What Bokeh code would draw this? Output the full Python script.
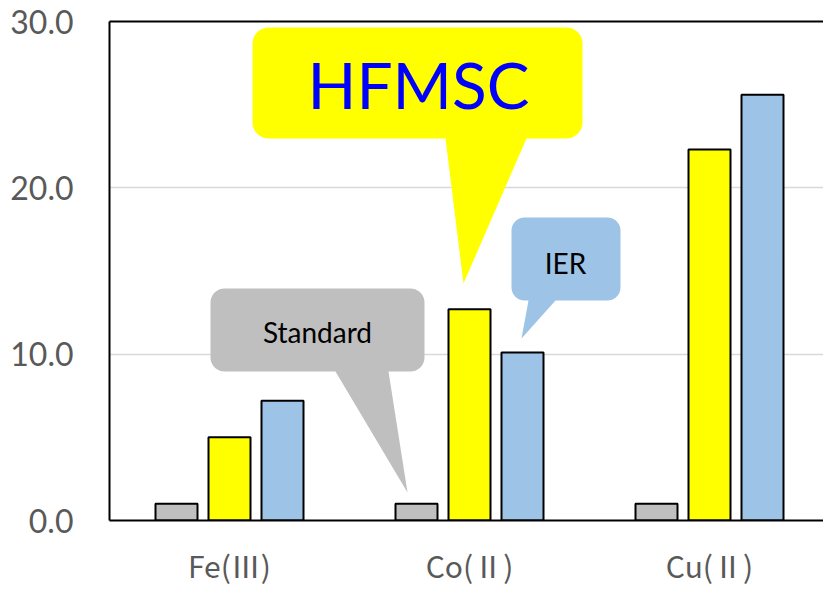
import numpy as np
from bokeh.plotting import figure
from bokeh.models import ColumnDataSource, Range1d, FixedTicker, PrintfTickFormatter, LinearAxis
from bokeh.transform import dodge
from bokeh.core.properties import value
from bokeh.embed import file_html
from bokeh.resources import INLINE

# ---- data ----
categories = ["Fe(Ⅲ)", "Co(Ⅱ)", "Cu(Ⅱ)"]
standard = [1.0, 1.0, 1.0]
hfmsc = [5.0, 12.7, 22.3]
ier = [7.2, 10.1, 25.6]
y_ticks = [0, 10, 20, 30]

cat_x = [i + 0.5 for i in range(len(categories))]
src = ColumnDataSource(dict(x=cat_x, standard=standard, hfmsc=hfmsc, ier=ier))

p = figure(width=823, height=590, output_backend="svg", toolbar_location=None,
           x_range=Range1d(0, 714 / 240), y_range=Range1d(0, 30),
           min_border_left=109, min_border_right=0, min_border_top=21, min_border_bottom=70)
p.outline_line_color = None
p.background_fill_color = "white"
p.border_fill_color = "white"

# axes
p.yaxis.ticker = FixedTicker(ticks=y_ticks)
p.yaxis.formatter = PrintfTickFormatter(format="%.1f")
p.yaxis.axis_line_color = "black"
p.yaxis.axis_line_width = 2
p.yaxis.major_tick_line_color = None
p.yaxis.minor_tick_line_color = None
p.yaxis.major_label_text_font_size = "32px"
p.yaxis.major_label_text_color = "#595959"
p.yaxis.major_label_text_font = "Lato"
p.yaxis.major_label_standoff = 30

p.xaxis.ticker = FixedTicker(ticks=cat_x)
p.xaxis.major_label_overrides = {x: c for x, c in zip(cat_x, categories)}
p.xaxis.axis_line_color = "black"
p.xaxis.axis_line_width = 2
p.xaxis.major_tick_line_color = None
p.xaxis.minor_tick_line_color = None
p.xaxis.major_label_text_font_size = "30px"
p.xaxis.major_label_text_color = "#595959"
p.xaxis.major_label_text_font = "Noto Sans CJK JP"
p.xaxis.major_label_standoff = 16

top_axis = LinearAxis(axis_line_color="black", axis_line_width=2,
                      major_tick_line_color=None, minor_tick_line_color=None,
                      major_label_text_font_size="0px", ticker=FixedTicker(ticks=[]))
p.add_layout(top_axis, "above")

p.xgrid.grid_line_color = None
p.ygrid.ticker = FixedTicker(ticks=y_ticks)
p.ygrid.grid_line_color = "#d9d9d9"
p.ygrid.grid_line_width = 1.5

# bars
bw = 42 / 240
off = 53 / 240
p.vbar(x=dodge("x", -off), top="standard", width=bw, source=src,
       fill_color="#BFBFBF", line_color="black", line_width=2)
p.vbar(x=dodge("x", 0), top="hfmsc", width=bw, source=src,
       fill_color="#FFFF00", line_color="black", line_width=2)
p.vbar(x=dodge("x", off), top="ier", width=bw, source=src,
       fill_color="#9DC3E6", line_color="black", line_width=2)

# ---- callouts (layout in screen px of the frame, converted to data units) ----
def to_data(sx, sy):
    return (sx - 109) / 240.0, (520 - sy) * 30.0 / 499.0

def bubble(x0, y0, x1, y1, r, bx0, bx1, tx, ty, n=10):
    pts = []
    def arc(cx, cy, a0, a1):
        for a in np.linspace(a0, a1, n):
            pts.append((cx + r * np.cos(a), cy + r * np.sin(a)))
    arc(x0 + r, y0 + r, np.pi, 1.5 * np.pi)
    arc(x1 - r, y0 + r, 1.5 * np.pi, 2 * np.pi)
    arc(x1 - r, y1 - r, 0, 0.5 * np.pi)
    pts.append((bx1, y1))
    pts.append((tx, ty))
    pts.append((bx0, y1))
    arc(x0 + r, y1 - r, 0.5 * np.pi, np.pi)
    xs, ys = zip(*[to_data(a, b) for a, b in pts])
    return list(xs), list(ys)

callouts = [
    dict(box=(252, 27, 582, 138), r=16, tail=(445, 526), tip=(463, 283), fill="#FFFF00",
         text="HFMSC", tpos=(418, 84), size="64px", color="#0000FF"),
    dict(box=(511, 217, 620, 300), r=13, tail=(528, 555), tip=(521, 338), fill="#9DC3E6",
         text="IER", tpos=(565, 262), size="28px", color="black"),
    dict(box=(210, 288, 424, 371), r=14, tail=(335, 388), tip=(407, 492), fill="#BFBFBF",
         text="Standard", tpos=(317, 331), size="28px", color="black"),
]
for c in callouts:
    x0, y0, x1, y1 = c["box"]
    xs, ys = bubble(x0, y0, x1, y1, c["r"], c["tail"][0], c["tail"][1], c["tip"][0], c["tip"][1])
    p.patch(xs, ys, fill_color=c["fill"], line_color=None)
    tx, ty = to_data(*c["tpos"])
    p.text(x=[tx], y=[ty], text=[c["text"]], text_align="center", text_baseline="middle",
           text_font=value("Lato"), text_font_size=c["size"], text_color=c["color"])

open("out.html", "w").write(file_html(p, INLINE))
